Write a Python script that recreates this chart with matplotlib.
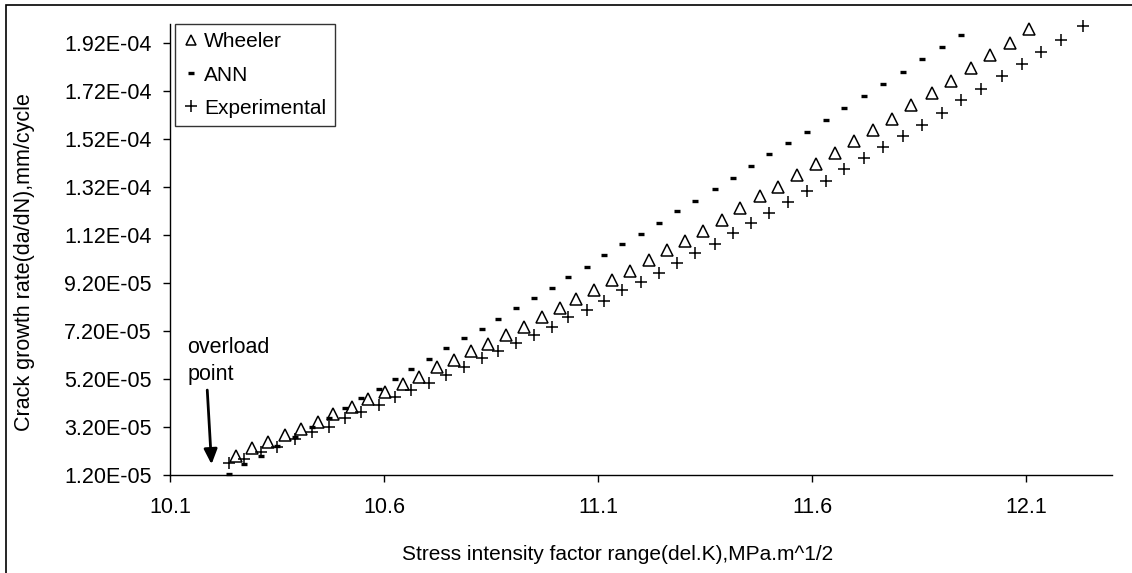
import numpy as np
import matplotlib.pyplot as plt
from matplotlib.ticker import FuncFormatter
from matplotlib.patches import Rectangle

plt.rcParams['font.family'] = ['Liberation Sans', 'DejaVu Sans']

# stress intensity factor range (MPa.m^1/2) for the experimental and ANN points
delta_k = [10.238, 10.273, 10.312, 10.350, 10.391, 10.432, 10.471, 10.508, 10.545, 10.587,
           10.626, 10.664, 10.706, 10.745, 10.787, 10.828, 10.866, 10.908, 10.949, 10.992,
           11.030, 11.073, 11.114, 11.156, 11.201, 11.242, 11.285, 11.327, 11.372, 11.414,
           11.456, 11.500, 11.543, 11.588, 11.633, 11.675, 11.721, 11.765, 11.812, 11.857,
           11.903, 11.948, 11.994, 12.044, 12.089, 12.134, 12.182, 12.233]

# crack growth rate, in units of 1E-05 mm/cycle
exp_rate = [1.71, 1.87, 2.17, 2.38, 2.69, 2.98, 3.21, 3.56, 3.84, 4.12,
            4.46, 4.74, 5.02, 5.37, 5.71, 6.06, 6.38, 6.71, 7.03, 7.38,
            7.80, 8.09, 8.46, 8.90, 9.25, 9.63, 10.02, 10.45, 10.85, 11.27,
            11.71, 12.13, 12.59, 13.03, 13.47, 13.96, 14.40, 14.87, 15.33, 15.78,
            16.30, 16.83, 17.31, 17.83, 18.35, 18.84, 19.35, 19.91]

ann_rate = [1.24, 1.66, 2.00, 2.41, 2.80, 3.21, 3.56, 3.98, 4.40, 4.78,
            5.21, 5.60, 6.02, 6.48, 6.90, 7.27, 7.70, 8.15, 8.56, 9.01,
            9.45, 9.88, 10.38, 10.83, 11.25, 11.69, 12.20, 12.63, 13.13, 13.56,
            14.06, 14.57, 15.05, 15.50, 15.98, 16.50, 16.99, 17.49, 18.00, 18.56,
            19.05, 19.56]

wheeler_k = [10.254, 10.291, 10.329, 10.368, 10.407, 10.445, 10.481, 10.524, 10.563, 10.602,
             10.643, 10.682, 10.724, 10.763, 10.804, 10.843, 10.884, 10.926, 10.969, 11.010,
             11.049, 11.090, 11.132, 11.174, 11.218, 11.261, 11.303, 11.345, 11.390, 11.432,
             11.477, 11.520, 11.564, 11.608, 11.652, 11.697, 11.741, 11.787, 11.831, 11.879,
             11.924, 11.971, 12.015, 12.062, 12.105]
wheeler_rate = [1.99, 2.31, 2.59, 2.87, 3.10, 3.42, 3.74, 4.05, 4.35, 4.66,
                4.99, 5.30, 5.69, 5.99, 6.38, 6.66, 7.03, 7.38, 7.77, 8.15,
                8.52, 8.91, 9.33, 9.71, 10.15, 10.58, 10.96, 11.38, 11.85, 12.31,
                12.82, 13.21, 13.70, 14.15, 14.63, 15.13, 15.59, 16.03, 16.62, 17.13,
                17.63, 18.15, 18.70, 19.21, 19.81]

x_ticks = [10.1, 10.6, 11.1, 11.6, 12.1]
y_ticks = [1.2e-05 + 2e-05 * i for i in range(10)]

scale = 1e-05
dk = np.array(delta_k)
exp_y = np.array(exp_rate) * scale
ann_y = np.array(ann_rate) * scale
wh_x = np.array(wheeler_k)
wh_y = np.array(wheeler_rate) * scale

fig = plt.figure(figsize=(11.32, 5.73), dpi=100)
ax = fig.add_axes([170 / 1132, 1 - 475 / 573, 942 / 1132, 451 / 573])

ax.plot(wh_x, wh_y, linestyle='none', marker='^', markersize=8, markerfacecolor='none',
        markeredgecolor='black', markeredgewidth=1.1, label='Wheeler', clip_on=False)
ax.plot(dk[:len(ann_y)], ann_y, linestyle='none', marker='_', markersize=5,
        markeredgecolor='black', markeredgewidth=2.4, label='ANN', clip_on=False)
ax.plot(dk, exp_y, linestyle='none', marker='+', markersize=9,
        markeredgecolor='black', markeredgewidth=1.1, label='Experimental', clip_on=False)

ax.set_xlim(10.1, 12.3)
ax.set_ylim(1.2e-05, 2.0e-04)
ax.set_xticks(x_ticks)
ax.set_xticklabels([f'{v:.1f}' for v in x_ticks])
ax.set_yticks(y_ticks)
ax.yaxis.set_major_formatter(FuncFormatter(lambda v, p: f'{v:.2E}'))
ax.tick_params(axis='both', direction='out', length=5, width=1, colors='black', labelsize=15.5)
ax.tick_params(axis='x', pad=11)
ax.tick_params(axis='y', pad=8)

for side in ['top', 'right']:
    ax.spines[side].set_visible(False)
for side in ['left', 'bottom']:
    ax.spines[side].set_color('black')
    ax.spines[side].set_linewidth(1)

# overload marker
ax.annotate('', xy=(10.197, 1.646e-05), xytext=(10.187, 4.74e-05),
            arrowprops=dict(arrowstyle='-|>,head_length=0.45,head_width=0.2',
                            mutation_scale=20, color='black', lw=2,
                            shrinkA=0, shrinkB=0))
ax.text(10.141, 5.95e-05, 'overload\npoint', fontsize=15.5, ha='left', va='center',
        linespacing=1.35)

fig.text(618 / 1132, 1 - 555 / 573, 'Stress intensity factor range(del.K),MPa.m^1/2',
         fontsize=15, ha='center', va='center')
fig.text(25 / 1132, 1 - 262 / 573, 'Crack growth rate(da/dN),mm/cycle',
         fontsize=15.5, ha='center', va='center', rotation=90)

leg = fig.legend(loc='upper left', bbox_to_anchor=(175 / 1132, 1 - 24 / 573),
                 borderaxespad=0, fontsize=15, frameon=True, fancybox=False,
                 handlelength=0.7, handletextpad=0.3, labelspacing=0.68,
                 borderpad=0.4, markerscale=0.9)
leg.get_frame().set_edgecolor('black')
leg.get_frame().set_linewidth(1)

# chart border
fig.patches.append(Rectangle((6 / 1132, -0.1), 1.2, 1 - 5 / 573 + 0.1,
                             transform=fig.transFigure, fill=False,
                             edgecolor='black', linewidth=1.2))

fig.savefig('out.png', dpi=100)
